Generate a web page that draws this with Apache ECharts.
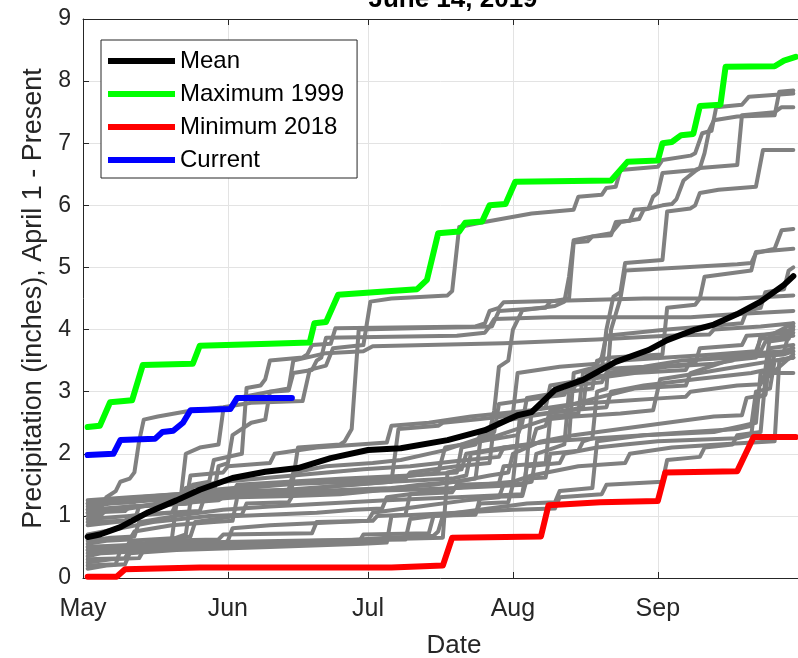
<!DOCTYPE html>
<html>
<head>
<meta charset="utf-8">
<script src="https://cdn.jsdelivr.net/npm/echarts@6/dist/echarts.min.js"></script>
<style>
  html, body { margin: 0; padding: 0; background: #fff; }
  #chart { width: 798px; height: 658px; }
</style>
</head>
<body>
<div id="chart"></div>
<script>
// day offsets from May 1, 2019 -> cumulative precipitation (inches)
var meanLine = [[1,0.66],[3.6,0.7],[8,0.82],[14,1.06],[20,1.25],[25,1.42],[32,1.61],[39,1.71],[46,1.77],[53,1.93],[61,2.06],[68,2.09],[78,2.22],[86,2.38],[93,2.62],[96,2.67],[101,3.03],[107,3.19],[114,3.48],[121,3.67],[125,3.83],[131,4.0],[135,4.08],[140,4.25],[145,4.45],[150,4.72],[152,4.86]];
var max1999 = [[1,2.43],[3.6,2.45],[5.8,2.83],[10.5,2.86],[12.8,3.43],[23.5,3.45],[25,3.74],[40,3.77],[48.5,3.79],[49.5,4.1],[52,4.12],[54.6,4.56],[66,4.62],[71.5,4.65],[73.6,4.8],[76,5.55],[80.5,5.58],[81.8,5.72],[85.4,5.74],[87,6.0],[90.4,6.02],[92.5,6.38],[113,6.4],[116.5,6.7],[123,6.72],[124,7.0],[126,7.02],[128,7.13],[130.6,7.15],[132,7.6],[136.4,7.62],[137.5,8.23],[148,8.24],[150,8.33],[152.5,8.39]];
var min2018 = [[1,0.02],[7.2,0.02],[9,0.14],[25,0.17],[66,0.17],[77,0.2],[79,0.65],[98,0.67],[99.6,1.17],[110.7,1.22],[123,1.24],[124.6,1.7],[140,1.72],[143.5,2.27],[152.5,2.27]];
var current2019 = [[1,1.98],[6.5,2.0],[8,2.22],[15.4,2.24],[17,2.35],[19.3,2.37],[21.4,2.5],[23,2.7],[31.5,2.72],[33,2.9],[44.7,2.9]];

var past01 = [[1,1.1],[4,1.15],[5,1.3],[7,1.4],[8,1.55],[10,1.6],[11,1.7],[12,2.2],[13,2.55],[16,2.6],[22,2.68],[30,2.75],[36,2.82],[47,2.85],[48.5,3.35],[52,3.42],[53.5,3.7],[60,3.75],[61.5,4.45],[66,4.5],[78,4.55],[79,4.62],[80.5,5.65],[85,5.72],[96,5.87],[105,5.93],[106,6.14],[111,6.17],[112,6.28],[114,6.3],[115,6.57],[123,6.62],[124,6.73],[130,6.8],[131,6.84],[132.5,7.16],[134.5,7.2],[135.5,7.58],[141,7.62],[142.5,7.75],[152,7.8]];
var past02 = [[1,0.9],[9,0.92],[10,1.0],[19,1.05],[20,1.2],[29,1.25],[30,1.3],[44.5,1.35],[46,2.1],[55,2.15],[56,2.2],[57.5,2.4],[59,4.0],[87.5,4.05],[89,4.3],[99,4.35],[100,4.45],[104,4.5],[105,5.4],[108,5.42],[109,5.5],[113,5.52],[114,5.73],[117,5.75],[118,5.93],[121,5.95],[122,6.14],[123,6.2],[124,6.52],[131,6.57],[132,6.6],[133,6.84],[134,7.21],[135,7.37],[140,7.43],[148,7.45],[149,7.83],[152,7.85]];
var past03 = [[1,1.2],[11,1.22],[12,1.3],[20,1.35],[32,1.38],[33,1.5],[55,1.6],[70,1.65],[80,1.7],[81,2.1],[84,2.15],[85,2.3],[87,2.35],[88,2.7],[89,3.4],[91,3.5],[92,4.0],[94,4.31],[101,4.38],[103,4.45],[104,4.85],[105,5.44],[109,5.5],[113,5.55],[115,5.73],[119,5.78],[120,5.93],[124,6.0],[126,6.02],[127,6.1],[128.5,6.4],[131,6.55],[132,6.6],[140,6.65],[141,7.45],[148,7.5],[149.5,7.58],[152,7.58]];
var past04 = [[1,0.5],[14,0.52],[15,0.6],[29,0.62],[30,0.7],[49,0.72],[50,0.9],[62,0.92],[63,1.0],[69,1.02],[70,1.35],[79,1.38],[80,1.5],[89,1.52],[90,1.8],[99,1.85],[100,2.6],[106,2.65],[107,3.3],[111,3.35],[112,4.0],[113.5,4.53],[115,4.6],[116,5.07],[124,5.12],[125,5.9],[130,5.95],[131,6.0],[132,6.2],[136,6.25],[144,6.3],[145.5,6.89],[152,6.89]];
var past05 = [[1,0.3],[9,0.32],[10,0.45],[25,0.5],[50,0.55],[59,0.57],[60,0.7],[74,0.72],[75,1.0],[84,1.02],[85,1.3],[94,1.32],[95,1.6],[99,1.62],[100,2.0],[106,2.05],[107,2.2],[109,2.25],[110,3.0],[112,3.05],[113,4.0],[115,4.5],[116,4.95],[128,5.0],[140,5.05],[143,5.07],[144,5.23],[148,5.3],[149.5,5.6],[152,5.62]];
var past06 = [[1,0.2],[7,0.22],[8,0.45],[15,0.5],[40,0.55],[55,0.6],[65,0.65],[75,0.68],[76,0.75],[77,1.0],[84,1.05],[85,1.2],[91,1.22],[92,1.5],[96,1.55],[97,2.0],[101,2.1],[103,2.15],[104,3.0],[109,3.05],[110,3.5],[113,3.55],[124,3.6],[125,4.35],[131,4.4],[132,4.5],[133,4.85],[143,4.95],[144,5.25],[152,5.3]];
var past07 = [[1,1.05],[9,1.08],[10,1.15],[23,1.2],[24,1.3],[40,1.4],[58,1.5],[66,1.55],[67.5,2.4],[76,2.45],[77,2.5],[84,2.55],[90,2.6],[92,2.65],[93,3.3],[102,3.4],[110,3.45],[111,3.55],[112,3.9],[125,4.0],[133,4.05],[141,4.1],[142,4.3],[145,4.35],[146,4.6],[150,4.65],[151,4.95],[152,5.0]];
var past08 = [[1,0.45],[9,0.47],[10,0.55],[19,0.58],[20,0.65],[22,0.7],[23.5,1.5],[27,1.55],[28,1.9],[34,2.0],[35,3.06],[38,3.1],[39,3.2],[40,3.5],[47,3.55],[48,3.6],[49,3.75],[53,3.77],[54,4.02],[84,4.05],[86,4.1],[87,4.3],[89,4.35],[90,4.44],[100,4.46],[120,4.5],[140,4.5],[152,4.55]];
var past09 = [[1,1.0],[4,1.02],[5,1.1],[12,1.15],[20,1.25],[21,1.35],[22,2.0],[25,2.1],[29,2.15],[30,2.7],[32,2.75],[33,2.9],[40,3.0],[44,3.02],[45,3.3],[49,3.35],[50,3.5],[51,3.55],[52,3.87],[80,3.9],[86,3.95],[87,4.05],[88,4.17],[100,4.2],[130,4.2],[140,4.25],[152,4.3]];
var past10 = [[1,0.4],[7,0.42],[8,0.5],[13,0.52],[14,0.6],[19,0.62],[20,1.2],[24,1.3],[28,1.35],[29,1.8],[31,1.85],[32,2.3],[36,2.5],[39,2.55],[40,3.0],[44,3.05],[45,3.5],[52,3.62],[60,3.65],[62,3.73],[90,3.78],[110,3.84],[125,3.9],[134,3.92],[135,4.0],[145,4.05],[152,4.1]];
var past11 = [[1,1.25],[10,1.3],[20,1.35],[35,1.45],[50,1.55],[65,1.6],[76,1.7],[77.5,2.1],[85,2.2],[93,2.3],[94,2.5],[95,2.9],[103,3.0],[105,3.05],[106,3.2],[115,3.3],[125,3.4],[135,3.45],[139,3.5],[140,3.6],[145,3.65],[146,3.8],[151,3.85],[152,4.05]];
var past12 = [[1,1.15],[6,1.2],[15,1.25],[24,1.28],[25,1.4],[40,1.5],[58,1.55],[69,1.6],[70,1.7],[80,1.8],[87,1.85],[88,2.5],[95,2.6],[104,2.7],[107,2.75],[108,3.35],[120,3.4],[128,3.5],[140,3.55],[150,3.6],[152,3.65]];
var past13 = [[1,1.05],[8,1.1],[17,1.2],[21,1.22],[22,1.45],[30,1.55],[45,1.65],[60,1.75],[70,1.8],[82,1.9],[89,1.95],[90,2.1],[96,2.15],[97,2.4],[99,2.45],[100,2.7],[110,2.9],[118,3.05],[129,3.1],[130,3.3],[138,3.5],[144,3.55],[145,3.9],[152,4.0]];
var past14 = [[1,0.95],[10,1.0],[18,1.05],[25,1.08],[26,1.3],[40,1.35],[50,1.4],[66,1.45],[75,1.5],[84,1.6],[85,2.2],[93,2.4],[99,2.55],[105,2.6],[115,2.65],[122,2.7],[123.5,3.2],[132,3.3],[140,3.4],[148,3.5],[152,3.55]];
var past15 = [[1,0.85],[7,0.9],[11,0.92],[12,1.15],[25,1.25],[33,1.3],[45,1.32],[55,1.35],[62,1.4],[72,1.5],[80,1.55],[87,1.65],[91,1.7],[92,2.0],[98,2.2],[105,2.3],[115,2.4],[125,2.5],[135,2.6],[141,2.62],[142,2.9],[146,2.95],[147,3.7],[152,3.75]];
var past16 = [[1,0.7],[8,0.8],[15,0.9],[27,1.0],[34,1.02],[35,1.2],[44,1.22],[45,1.35],[60,1.4],[70,1.42],[80,1.45],[94.5,1.5],[96,2.7],[105,2.8],[115,2.85],[125,2.9],[129,2.92],[130,3.0],[140,3.1],[145,3.12],[146,3.3],[152,3.3]];
var past17 = [[1,0.6],[6,0.65],[11,0.67],[12,0.9],[20,1.0],[30,1.1],[40,1.15],[52,1.2],[65,1.25],[80,1.3],[94,1.35],[95,1.8],[102,1.85],[103,2.0],[110,2.1],[116,2.15],[123,2.2],[140,2.25],[143,2.3],[144,2.9],[146,2.95],[147,3.6],[152,3.65]];
var past18 = [[1,0.55],[5,0.6],[10,0.62],[11,0.75],[19,0.85],[28,0.9],[32,0.92],[33,1.3],[44,1.4],[57,1.5],[66,1.55],[79,1.6],[82,1.65],[83,2.0],[92,2.1],[99,2.2],[104,2.25],[105,3.3],[115,3.5],[125,3.55],[135,3.6],[144,3.65],[145,3.85],[152,3.9]];
var past19 = [[1,0.35],[4,0.4],[9,0.42],[10,0.6],[21,0.65],[23,0.67],[24,0.9],[33,1.0],[50,1.05],[58,1.1],[64,1.12],[65,1.3],[75,1.4],[85,1.5],[92,1.55],[93.5,2.6],[104,2.7],[112,2.75],[113,3.0],[120,3.1],[131,3.2],[143,3.3],[146,3.35],[147,3.9],[152,4.1]];
var past20 = [[1,0.25],[6,0.3],[12,0.32],[13,0.45],[20,0.5],[30,0.55],[31,0.6],[32,0.8],[40,0.85],[55,0.9],[61,0.92],[62,1.05],[72,1.15],[82,1.25],[89,1.3],[90,1.5],[96,1.65],[106,1.8],[116,1.85],[117,2.0],[126,2.1],[136,2.15],[148,2.2],[149,3.5],[152,3.55]];
var past21 = [[1,1.2],[9,1.25],[22,1.3],[35,1.4],[44,1.42],[45,1.7],[52,1.8],[62,1.85],[68,1.9],[77,2.05],[87,2.3],[88,2.35],[89,2.8],[98,2.9],[103,2.95],[104,3.1],[111,3.15],[112,3.3],[122,3.4],[131,3.45],[132,3.7],[141,3.75],[142,3.9],[152,3.95]];
var past22 = [[1,1.1],[10,1.15],[22,1.2],[23,1.65],[30,1.7],[31,1.8],[40,1.85],[41,2.0],[50,2.1],[59,2.15],[65,2.18],[66,2.45],[74,2.5],[83,2.6],[96,2.7],[99,2.75],[100,3.1],[108,3.2],[118,3.3],[129,3.35],[130,3.5],[140,3.6],[150,3.65],[151.5,4.05],[152,4.05]];
var past23 = [[1,0.5],[15,0.55],[30,0.58],[45,0.6],[62,0.62],[77,0.65],[78,1.7],[81,1.75],[82,2.0],[90,2.1],[100,2.2],[110,2.25],[120,2.3],[135,2.35],[141,2.45],[144,2.5],[145,3.3],[147,3.35],[148,3.6],[152,3.7]];
var past24 = [[1,0.45],[15,0.5],[30,0.55],[50,0.6],[69,0.62],[70,0.95],[80,1.05],[95,1.2],[101,1.22],[102,1.4],[109,1.45],[110,2.2],[120,2.3],[130,2.35],[140,2.4],[143,2.45],[144,3.0],[147,3.05],[148,3.5],[152,3.55]];
var past25 = [[1,0.15],[5,0.2],[9,0.22],[10,0.4],[20,0.45],[40,0.5],[60,0.55],[65,0.57],[66,1.0],[80,1.05],[92,1.1],[101,1.12],[102,1.3],[111,1.35],[112,1.5],[124,1.55],[125,1.9],[132,1.95],[133,2.1],[139,2.15],[140,2.3],[145,2.35],[146,3.2],[152,3.6]];

var pastYears = [past01,past02,past03,past04,past05,past06,past07,past08,past09,past10,past11,past12,past13,past14,past15,past16,past17,past18,past19,past20,past21,past22,past23,past24,past25];
var monthNames = ['Jan','Feb','Mar','Apr','May','Jun','Jul','Aug','Sep','Oct','Nov','Dec'];

var DAY = 86400000;
var base = new Date(2019, 4, 1).getTime();
var xMin = base;
var xMax = new Date(2019, 9, 1).getTime();
function toTime(arr) {
    return arr.map(function (p) { return [base + p[0] * DAY, p[1]]; });
}

var font = '"Liberation Sans", Arial, Helvetica, sans-serif';
var axisColor = '#262626';

var series = [];
for (var i = 0; i < pastYears.length; i++) {
    series.push({
        type: 'line',
        name: 'past' + i,
        data: toTime(pastYears[i]),
        symbol: 'none',
        silent: true,
        lineStyle: { color: '#808080', width: 4, cap: 'round', join: 'round' },
        z: 2
    });
}
series.push({
    type: 'line', name: 'Minimum 2018', data: toTime(min2018), symbol: 'none',
    lineStyle: { color: '#ff0000', width: 6, cap: 'round', join: 'round' }, itemStyle: { color: '#ff0000' }, z: 3
});
series.push({
    type: 'line', name: 'Maximum 1999', data: toTime(max1999), symbol: 'none',
    lineStyle: { color: '#00ff00', width: 6, cap: 'round', join: 'round' }, itemStyle: { color: '#00ff00' }, z: 3
});
series.push({
    type: 'line', name: 'Mean', data: toTime(meanLine), symbol: 'none',
    lineStyle: { color: '#000000', width: 6, cap: 'round', join: 'round' }, itemStyle: { color: '#000000' }, z: 4
});
series.push({
    type: 'line', name: 'Current', data: toTime(current2019), symbol: 'none',
    lineStyle: { color: '#0000ff', width: 6, cap: 'round', join: 'round' }, itemStyle: { color: '#0000ff' }, z: 4
});

var myChart = echarts.init(document.getElementById('chart'));
var option = {
    backgroundColor: '#FFFFFF',
    animation: false,
    grid: { left: 83, right: 0, top: 19, bottom: 80 },
    legend: {
        orient: 'vertical',
        left: 101,
        top: 40,
        padding: [9, 13, 6, 7],
        itemGap: 9,
        itemWidth: 67,
        itemHeight: 6,
        icon: 'rect',
        backgroundColor: '#ffffff',
        borderColor: axisColor,
        borderWidth: 1,
        textStyle: { fontFamily: font, fontSize: 24, color: '#000', lineHeight: 24 },
        data: ['Mean', 'Maximum 1999', 'Minimum 2018', 'Current']
    },
    graphic: [
        { type: 'text', x: 453, y: 0, style: { text: 'June 14, 2019', textAlign: 'center', textVerticalAlign: 'middle', fontFamily: font, fontSize: 26, fontWeight: 'bold', fill: '#000' } },
        { type: 'text', x: 454, y: 646, style: { text: 'Date', textAlign: 'center', textVerticalAlign: 'middle', fontFamily: font, fontSize: 26, fill: axisColor } }
    ],
    xAxis: [
        {
            type: 'time',
            min: xMin,
            max: xMax,
            splitNumber: 5,
            axisLine: { show: true, lineStyle: { color: axisColor, width: 1 } },
            axisTick: { show: true, inside: true, length: 6, lineStyle: { color: axisColor } },
            minorTick: { show: false },
            splitLine: { show: true, lineStyle: { color: '#e3e3e3', width: 1 } },
            axisLabel: {
                margin: 19,
                fontFamily: font,
                fontSize: 25,
                color: axisColor,
                showMaxLabel: false,
                formatter: function (v) {
                    var d = new Date(v);
                    if (d.getMonth() > 8) return '';
                    return monthNames[d.getMonth()];
                }
            }
        },
        {
            type: 'time',
            position: 'top',
            min: xMin,
            max: xMax,
            splitNumber: 5,
            axisLine: { show: true, lineStyle: { color: axisColor, width: 1 } },
            axisTick: { show: true, inside: true, length: 6, lineStyle: { color: axisColor } },
            splitLine: { show: false },
            axisLabel: { show: false }
        }
    ],
    yAxis: {
        type: 'value',
        min: 0,
        max: 9,
        interval: 1,
        name: 'Precipitation (inches), April 1 - Present',
        nameLocation: 'middle',
        nameGap: 36,
        nameTextStyle: { fontFamily: font, fontSize: 27, color: axisColor },
        axisLine: { show: true, lineStyle: { color: axisColor, width: 1 } },
        axisTick: { show: true, inside: true, length: 6, lineStyle: { color: axisColor } },
        splitLine: { show: true, lineStyle: { color: '#e3e3e3', width: 1 } },
        axisLabel: { margin: 12, fontFamily: font, fontSize: 23, color: axisColor }
    },
    series: series
};
myChart.setOption(option);
</script>
</body>
</html>
